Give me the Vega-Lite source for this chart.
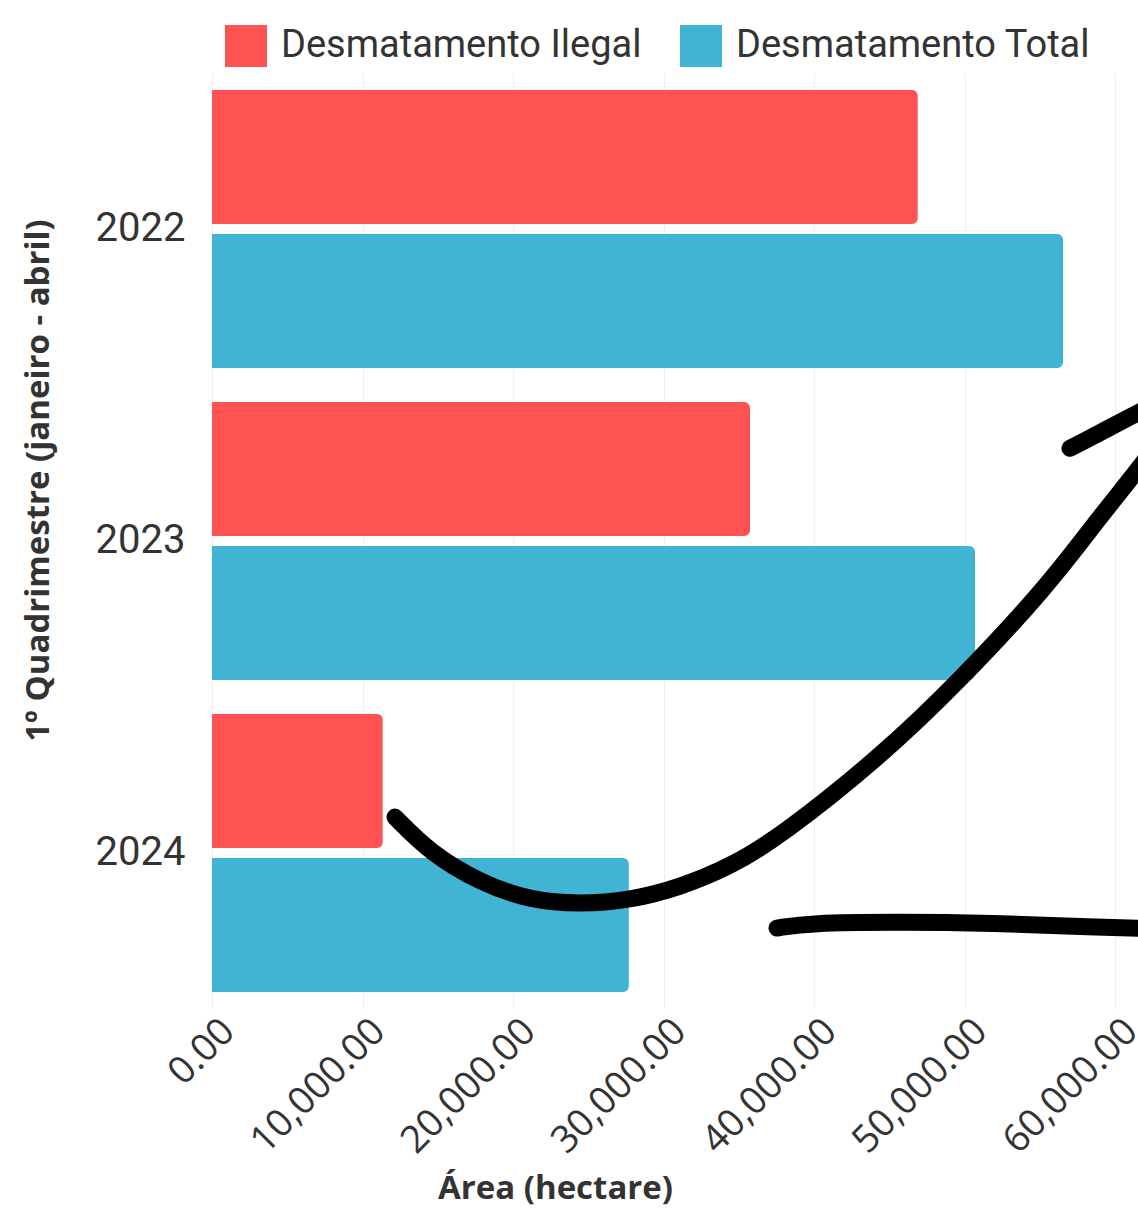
{
  "$schema": "https://vega.github.io/schema/vega-lite/v6.json",
  "width": 903,
  "height": 936,
  "autosize": {"type": "none"},
  "padding": {"left": 212, "top": 73, "right": 23, "bottom": 200},
  "background": "white",
  "config": {"view": {"stroke": null}},
  "datasets": {
    "bars": [
      {"year": "2022", "series": "Desmatamento Ilegal", "area": 46900},
      {"year": "2022", "series": "Desmatamento Total", "area": 56550},
      {"year": "2023", "series": "Desmatamento Ilegal", "area": 35750},
      {"year": "2023", "series": "Desmatamento Total", "area": 50700},
      {"year": "2024", "series": "Desmatamento Ilegal", "area": 11350},
      {"year": "2024", "series": "Desmatamento Total", "area": 27700}
    ],
    "arrow": [
      {"stroke": "curve", "area": 12160, "v": 20.5},
      {"stroke": "curve", "area": 14485, "v": 16.7},
      {"stroke": "curve", "area": 17807, "v": 13.5},
      {"stroke": "curve", "area": 21130, "v": 11.6},
      {"stroke": "curve", "area": 24452, "v": 11.2},
      {"stroke": "curve", "area": 27774, "v": 11.6},
      {"stroke": "curve", "area": 31096, "v": 13.0},
      {"stroke": "curve", "area": 34418, "v": 15.2},
      {"stroke": "curve", "area": 37741, "v": 18.4},
      {"stroke": "curve", "area": 44385, "v": 26.9},
      {"stroke": "curve", "area": 49701, "v": 35.1},
      {"stroke": "curve", "area": 55482, "v": 45.1},
      {"stroke": "curve", "area": 58804, "v": 52.2},
      {"stroke": "curve", "area": 61528, "v": 57.6},
      {"stroke": "curve", "area": 62990, "v": 60.8},
      {"stroke": "head", "area": 57010, "v": 59.9},
      {"stroke": "head", "area": 61528, "v": 63.7},
      {"stroke": "head", "area": 62990, "v": 64.9},
      {"stroke": "base", "area": 37541, "v": 8.65},
      {"stroke": "base", "area": 39734, "v": 9.19},
      {"stroke": "base", "area": 45249, "v": 9.29},
      {"stroke": "base", "area": 51894, "v": 9.19},
      {"stroke": "base", "area": 58538, "v": 8.76},
      {"stroke": "base", "area": 62990, "v": 8.55}
    ]
  },
  "layer": [
    {
      "data": {"name": "bars"},
      "mark": {"type": "bar", "cornerRadiusEnd": 6},
      "encoding": {
        "y": {
          "field": "year",
          "type": "nominal",
          "scale": {"paddingInner": 0.109, "paddingOuter": 0.0545},
          "axis": {
            "title": "1º Quadrimestre (janeiro - abril)",
            "titleFont": "Open Sans",
            "titleFontWeight": "bold",
            "titleFontSize": 33,
            "titleColor": "#333333",
            "titleX": -174,
            "titleY": 407,
            "titleAngle": -90,
            "titleAlign": "center",
            "titleBaseline": "middle",
            "labelFont": "Roboto",
            "labelFontSize": 40,
            "labelColor": "#333333",
            "labelPadding": 27,
            "labelAngle": 0,
            "ticks": false,
            "domain": false,
            "grid": false
          }
        },
        "yOffset": {
          "field": "series",
          "type": "nominal",
          "scale": {"paddingInner": 0.0694, "paddingOuter": 0}
        },
        "x": {
          "field": "area",
          "type": "quantitative",
          "scale": {"domain": [0, 60000], "nice": false},
          "axis": {
            "values": [0, 10000, 20000, 30000, 40000, 50000, 60000],
            "format": ",.2f",
            "labelAngle": -45,
            "labelFont": "Open Sans",
            "labelFontSize": 38,
            "labelColor": "#333333",
            "labelPadding": 3,
            "labelOffset": 3,
            "labelOverlap": false,
            "labelFlush": false,
            "labelBound": false,
            "ticks": false,
            "domain": false,
            "grid": true,
            "gridColor": "#eeeeee",
            "gridWidth": 1,
            "title": "Área (hectare)",
            "titleFont": "Open Sans",
            "titleFontWeight": "bold",
            "titleFontSize": 33,
            "titleColor": "#333333",
            "titleX": 343,
            "titleY": 189,
            "titleAlign": "center",
            "titleBaseline": "alphabetic"
          }
        },
        "color": {
          "field": "series",
          "type": "nominal",
          "scale": {
            "domain": ["Desmatamento Ilegal", "Desmatamento Total"],
            "range": ["#FF5353", "#41B3D3"]
          },
          "legend": {
            "orient": "none",
            "legendX": 13,
            "legendY": -48,
            "direction": "horizontal",
            "title": null,
            "symbolType": "square",
            "symbolSize": 1764,
            "symbolStrokeWidth": 0,
            "symbolOpacity": 1,
            "labelFont": "Roboto",
            "labelFontSize": 38,
            "labelColor": "#333333",
            "labelOffset": 14,
            "labelLimit": 600,
            "columnPadding": 38,
            "padding": 0
          }
        }
      }
    },
    {
      "data": {"name": "arrow"},
      "mark": {
        "type": "line",
        "color": "black",
        "strokeWidth": 17,
        "strokeCap": "round",
        "strokeJoin": "round",
        "interpolate": "basis",
        "clip": false
      },
      "encoding": {
        "x": {"field": "area", "type": "quantitative"},
        "y": {
          "field": "v",
          "type": "quantitative",
          "scale": {"domain": [0, 100], "nice": false, "zero": false},
          "axis": null
        },
        "detail": {"field": "stroke", "type": "nominal"}
      }
    }
  ],
  "resolve": {"scale": {"y": "independent"}}
}
